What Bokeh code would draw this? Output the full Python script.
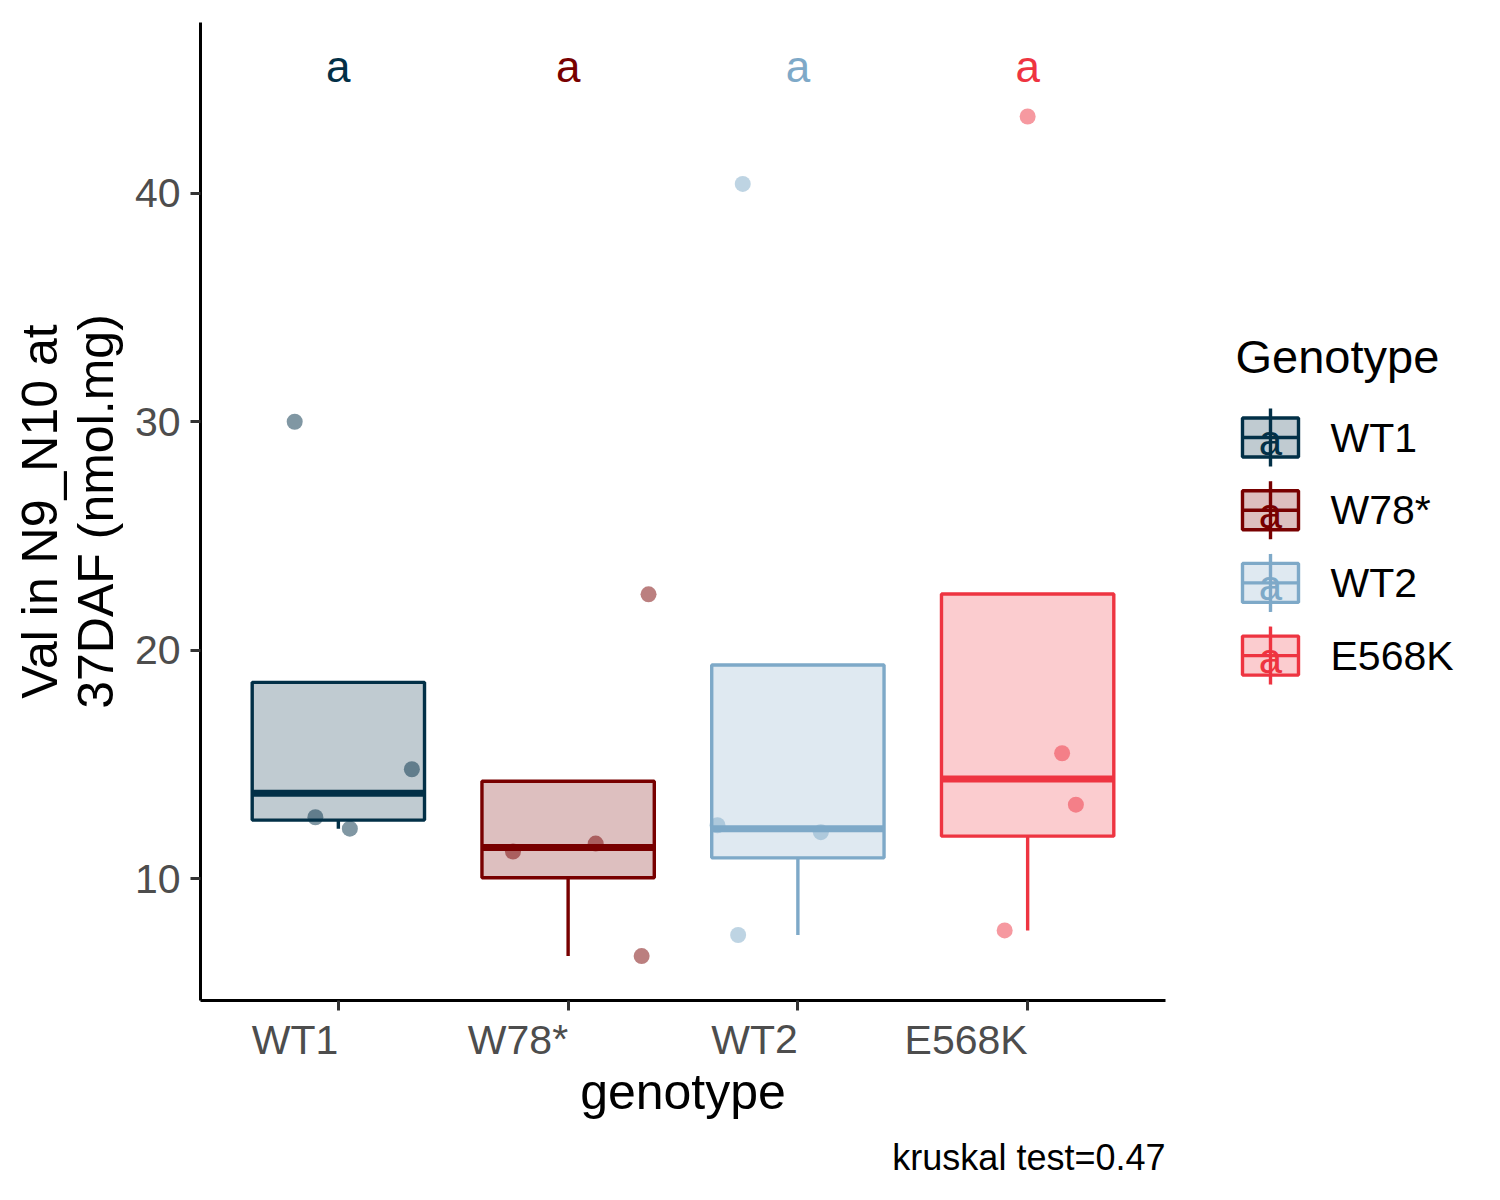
import numpy as np
from bokeh.plotting import figure
from bokeh.models import Range1d, FixedTicker, Title
from bokeh.layouts import row
from bokeh.embed import file_html
from bokeh.resources import INLINE
from bokeh.core.properties import value

# ---------------- data ----------------
genotypes = ["WT1", "W78*", "WT2", "E568K"]
colors = ["#023047", "#780000", "#7EA9C8", "#EE3441"]

val_wt1 = [30.0, 12.7, 12.2, 14.8]
val_w78 = [11.2, 11.55, 22.45, 6.63]
val_wt2 = [40.4, 12.35, 12.05, 7.55]
val_e568k = [43.35, 15.5, 13.25, 7.75]

# horizontal jitter of the points (category units)
jit_wt1 = [-0.19, -0.10, 0.05, 0.32]
jit_w78 = [-0.24, 0.12, 0.35, 0.32]
jit_wt2 = [-0.24, -0.35, 0.10, -0.26]
jit_e568k = [0.0, 0.15, 0.21, -0.10]

letters = ["a", "a", "a", "a"]
y_ticks = [10, 20, 30, 40]
kruskal_p = 0.47

FONT = "Liberation Sans"
values = [val_wt1, val_w78, val_wt2, val_e568k]
jitters = [jit_wt1, jit_w78, jit_wt2, jit_e568k]
xs = np.arange(1, len(genotypes) + 1)

all_vals = np.concatenate([np.asarray(v) for v in values])
letter_y = all_vals.max() * 1.05
lo, hi = all_vals.min(), letter_y
pad = 0.05 * (hi - lo)

W_MAIN, W_LEG, H = 1175, 315, 1192
BT, BB = 22, 192
LW, MW = 3.4, 7
p = figure(width=W_MAIN, height=H, x_range=Range1d(0.4, 4.6),
           y_range=Range1d(lo - pad, hi + pad),
           output_backend="svg", toolbar_location=None,
           min_border_left=200, min_border_right=10,
           min_border_top=BT, min_border_bottom=BB)
p.outline_line_color = None
p.grid.visible = False

BW = 0.75
for xi, c, v, j in zip(xs, colors, values, jitters):
    v = np.asarray(v, dtype=float)
    p.scatter(xi + np.asarray(j), v, size=16, fill_color=c, fill_alpha=0.5,
              line_color=None)
for xi, c, v in zip(xs, colors, values):
    v = np.asarray(v, dtype=float)
    q1, med, q3 = np.percentile(v, [25, 50, 75])
    iqr = q3 - q1
    inside = v[(v >= q1 - 1.5 * iqr) & (v <= q3 + 1.5 * iqr)]
    lw = min(q1, inside.min())
    uw = max(q3, inside.max())
    p.segment(x0=[xi, xi], y0=[q1, q3], x1=[xi, xi], y1=[lw, uw],
              line_color=c, line_width=LW)
    p.quad(left=[xi - BW / 2], right=[xi + BW / 2], bottom=[q1], top=[q3],
           fill_color=c, fill_alpha=0.25, line_color=c, line_width=LW)
    p.segment(x0=[xi - BW / 2], y0=[med], x1=[xi + BW / 2], y1=[med],
              line_color=c, line_width=MW)

p.text(x=xs, y=[letter_y] * len(xs), text=letters, text_color=colors,
       text_font=value(FONT), text_font_size="44px",
       text_align="center", text_baseline="middle")

# y axis
yax = p.yaxis[0]
yax.ticker = FixedTicker(ticks=y_ticks)
yax.axis_label = "Val in N9_N10 at\n37DAF (nmol.mg)"
yax.axis_label_text_font = FONT
yax.axis_label_text_font_size = "50px"
yax.axis_label_text_font_style = "normal"
yax.axis_label_text_color = "black"
yax.axis_label_text_line_height = 1.0
yax.axis_label_standoff = 8
yax.major_label_text_font = FONT
yax.major_label_text_font_size = "41px"
yax.major_label_text_color = "#4D4D4D"
yax.major_label_standoff = 10
yax.major_tick_out = 10
yax.major_tick_in = 0
yax.major_tick_line_width = 3
yax.major_tick_line_color = "#333333"
yax.minor_tick_line_color = None
yax.axis_line_width = 3
yax.axis_line_color = "black"

# x axis: labels right-aligned at their ticks (tiny numeric orientation)
xax = p.xaxis[0]
xax.ticker = FixedTicker(ticks=[float(x) for x in xs])
xax.major_label_overrides = {float(x): g for x, g in zip(xs, genotypes)}
xax.major_label_orientation = 1e-6
xax.major_label_standoff = 29
xax.major_label_text_font = FONT
xax.major_label_text_font_size = "41px"
xax.major_label_text_color = "#4D4D4D"
xax.major_tick_out = 10
xax.major_tick_in = 0
xax.major_tick_line_width = 3
xax.major_tick_line_color = "#333333"
xax.minor_tick_line_color = None
xax.axis_line_width = 3
xax.axis_line_color = "black"
xax.axis_label = "genotype"
xax.axis_label_text_font = FONT
xax.axis_label_text_font_size = "50px"
xax.axis_label_text_font_style = "normal"
xax.axis_label_text_color = "black"
xax.axis_label_standoff = -25

p.add_layout(Title(text=f"kruskal test={kruskal_p}", align="right",
                   text_font=FONT, text_font_size="36px",
                   text_font_style="normal", text_color="black",
                   standoff=24), "below")

# ---------------- legend (separate panel, image-pixel coordinates) -------
lg = figure(width=W_LEG, height=H, x_range=Range1d(W_MAIN, W_MAIN + W_LEG),
            y_range=Range1d(H - BB, BT), output_backend="svg",
            toolbar_location=None, x_axis_location=None,
            y_axis_location=None, min_border_left=0, min_border_right=0,
            min_border_top=BT, min_border_bottom=BB)
lg.outline_line_color = None
lg.grid.visible = False

lg.text(x=[1235], y=[356], text=["Genotype"], text_font=value(FONT),
        text_font_size="47px", text_color="black",
        text_align="left", text_baseline="middle")
kx = 1270
key_y = [437 + 72.7 * i for i in range(len(genotypes))]
for ky, c, g, lt in zip(key_y, colors, genotypes, letters):
    lg.segment(x0=[kx], y0=[ky - 29], x1=[kx], y1=[ky + 29],
               line_color=c, line_width=LW)
    lg.quad(left=[kx - 28], right=[kx + 28], top=[ky - 19.5],
            bottom=[ky + 19.5], fill_color=c, fill_alpha=0.25,
            line_color=c, line_width=LW)
    lg.segment(x0=[kx - 28], y0=[ky], x1=[kx + 28], y1=[ky],
               line_color=c, line_width=LW)
    lg.text(x=[kx], y=[ky + 3], text=[lt], text_font=value(FONT),
            text_font_size="42px", text_color=c,
            text_align="center", text_baseline="middle")
    lg.text(x=[1330], y=[ky], text=[g], text_font=value(FONT),
            text_font_size="41px", text_color="black",
            text_align="left", text_baseline="middle")

layout = row(p, lg)
open("out.html", "w").write(file_html(layout, INLINE))
